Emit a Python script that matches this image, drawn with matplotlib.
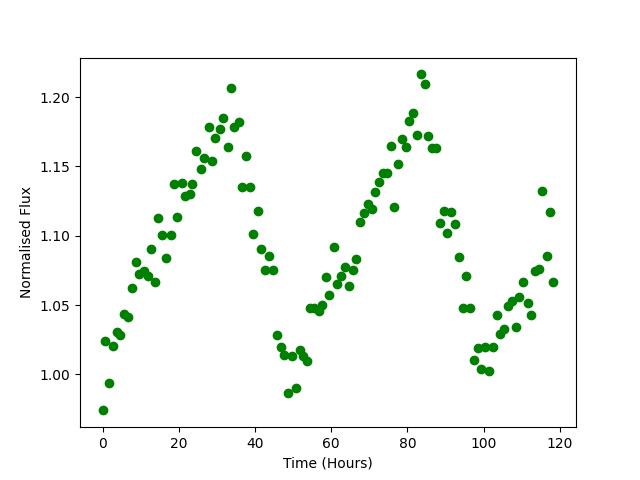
import matplotlib
matplotlib.use("Agg")
import matplotlib.pyplot as plt

# time (hours) and normalised flux
hours = [0.0, 0.7, 1.7, 2.8, 3.8, 4.7, 5.6, 6.8, 7.8, 8.8,
         9.6, 10.8, 11.8, 12.8, 13.8, 14.6, 15.7, 16.7, 17.9, 18.8,
         19.6, 20.8, 21.6, 22.9, 23.6, 24.6, 25.7, 26.7, 27.8, 28.7,
         29.6, 30.7, 31.7, 32.8, 33.6, 34.6, 35.8, 36.6, 37.6, 38.7,
         39.6, 40.7, 41.7, 42.5, 43.6, 44.6, 45.7, 46.7, 47.5, 48.6,
         49.6, 50.7, 51.7, 52.7, 53.7, 54.5, 55.6, 56.7, 57.6, 58.6,
         59.5, 60.7, 61.5, 62.5, 63.6, 64.6, 65.7, 66.5, 67.5, 68.6,
         69.6, 70.7, 71.5, 72.5, 73.6, 74.6, 75.7, 76.5, 77.5, 78.6,
         79.5, 80.3, 81.5, 82.5, 83.6, 84.6, 85.4, 86.5, 87.5, 88.6,
         89.5, 90.5, 91.5, 92.5, 93.6, 94.6, 95.4, 96.5, 97.5, 98.5,
         99.3, 100.4, 101.5, 102.5, 103.6, 104.3, 105.4, 106.4, 107.4, 108.5,
         109.3, 110.4, 111.5, 112.5, 113.4, 114.5, 115.4, 116.5, 117.5, 118.3]

flux = [0.9741, 1.0245, 0.9935, 1.0209, 1.0305, 1.0285, 1.0434, 1.0415, 1.0627, 1.0809,
        1.0728, 1.0746, 1.0713, 1.0908, 1.0670, 1.1131, 1.1009, 1.0843, 1.1009, 1.1376,
        1.1138, 1.1383, 1.1290, 1.1304, 1.1376, 1.1614, 1.1484, 1.1563, 1.1787, 1.1539,
        1.1707, 1.1772, 1.1852, 1.1643, 1.2068, 1.1787, 1.1818, 1.1354, 1.1578, 1.1354,
        1.1016, 1.1182, 1.0903, 1.0751, 1.0857, 1.0751, 1.0283, 1.0197, 1.0139, 0.9870,
        1.0130, 0.9906, 1.0177, 1.0134, 1.0094, 1.0478, 1.0483, 1.0461, 1.0501, 1.0706,
        1.0576, 1.0922, 1.0656, 1.0713, 1.0773, 1.0641, 1.0756, 1.0836, 1.1102, 1.1167,
        1.1232, 1.1196, 1.1318, 1.1390, 1.1455, 1.1455, 1.1650, 1.1210, 1.1520, 1.1695,
        1.1643, 1.1830, 1.1883, 1.1729, 1.2164, 1.2092, 1.1722, 1.1630, 1.1635, 1.1090,
        1.1182, 1.1018, 1.1174, 1.1083, 1.0850, 1.0483, 1.0713, 1.0483, 1.0108, 1.0189,
        1.0036, 1.0195, 1.0022, 1.0195, 1.0427, 1.0295, 1.0326, 1.0497, 1.0533, 1.0346,
        1.0557, 1.0665, 1.0514, 1.0432, 1.0749, 1.0764, 1.1321, 1.0857, 1.1174, 1.0665]

fig = plt.figure(figsize=(6.4, 4.8), dpi=100)
plt.plot(hours, flux, 'go')
plt.xlabel("Time (Hours)")
plt.ylabel("Normalised Flux")
plt.savefig("out.png")
